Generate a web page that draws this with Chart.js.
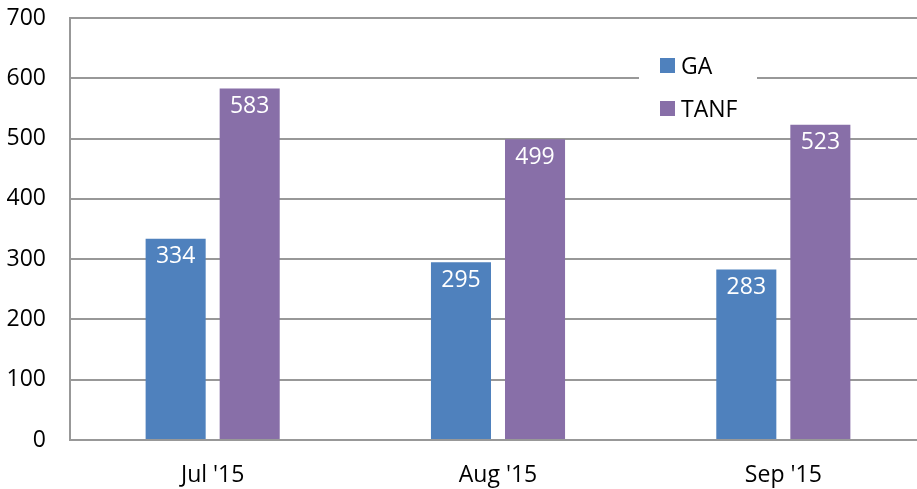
<!DOCTYPE html>
<html>
<head>
<meta charset="utf-8">
<script src="https://cdn.jsdelivr.net/npm/chart.js@4"></script>
<style>
html, body { margin: 0; padding: 0; overflow: hidden; background: #fff; width: 917px; height: 489px; }
#wrap { width: 926px; height: 489px; }
</style>
</head>
<body>
<div id="wrap"><canvas id="c" width="926" height="489"></canvas></div>
<script>
const categories = ["Jul '15", "Aug '15", "Sep '15"];
const gaValues = [334, 295, 283];
const tanfValues = [583, 499, 523];
const seriesNames = ["GA", "TANF"];
const yTicks = [0, 100, 200, 300, 400, 500, 600, 700];

const FONT = "'Open Sans', sans-serif";
const GRID = '#989898';
const BLUE = '#4F81BD';
const PURPLE = '#886FA8';

const labelPlugin = {
  id: 'barLabels',
  afterDatasetsDraw(chart) {
    const ctx = chart.ctx;
    ctx.save();
    ctx.font = "23px " + FONT;
    ctx.fillStyle = '#ffffff';
    ctx.textAlign = 'center';
    ctx.textBaseline = 'alphabetic';
    chart.data.datasets.forEach((ds, i) => {
      chart.getDatasetMeta(i).data.forEach((bar, j) => {
        ctx.fillText(String(ds.data[j]), bar.x, bar.y + 24.5);
      });
    });
    ctx.restore();
  }
};

const legendPlugin = {
  id: 'insideLegend',
  afterDatasetsDraw(chart) {
    const ctx = chart.ctx;
    ctx.save();
    ctx.fillStyle = '#ffffff';
    ctx.fillRect(639, 46, 118, 78);
    const colors = [BLUE, PURPLE];
    const centers = [65.5, 108.5];
    ctx.font = "23px " + FONT;
    ctx.textAlign = 'left';
    ctx.textBaseline = 'alphabetic';
    seriesNames.forEach((name, i) => {
      ctx.fillStyle = colors[i];
      ctx.fillRect(660, centers[i] - 7.5, 15, 15);
      ctx.fillStyle = '#000000';
      ctx.fillText(name, 681, centers[i] + 8);
    });
    ctx.restore();
  }
};

new Chart(document.getElementById('c'), {
  type: 'bar',
  data: {
    labels: categories,
    datasets: [
      { label: seriesNames[0], data: gaValues, backgroundColor: BLUE, barPercentage: 0.811, categoryPercentage: 0.519 },
      { label: seriesNames[1], data: tanfValues, backgroundColor: PURPLE, barPercentage: 0.811, categoryPercentage: 0.519 }
    ]
  },
  options: {
    responsive: false,
    animation: false,
    devicePixelRatio: 1,
    layout: { padding: { top: 18, left: 0, right: 0, bottom: 0 } },
    plugins: { legend: { display: false }, tooltip: { enabled: false } },
    scales: {
      x: {
        grid: { display: false, drawTicks: false },
        border: { display: true, color: GRID, width: 2 },
        ticks: { font: { family: FONT, size: 23 }, color: '#000', padding: 22 },
        afterFit(scale) { scale.height = 49; scale.paddingLeft = 0; scale.paddingRight = 0; }
      },
      y: {
        min: 0, max: 700,
        afterBuildTicks(scale) { scale.ticks = yTicks.map(v => ({ value: v })); },
        grid: { color: GRID, lineWidth: 2, drawTicks: false },
        border: { display: true, color: GRID, width: 2 },
        ticks: { font: { family: FONT, size: 23 }, color: '#000', padding: 24 },
        afterFit(scale) { scale.width = 70; scale.paddingTop = 0; scale.paddingBottom = 0; }
      }
    }
  },
  plugins: [labelPlugin, legendPlugin]
});
</script>
</body>
</html>
